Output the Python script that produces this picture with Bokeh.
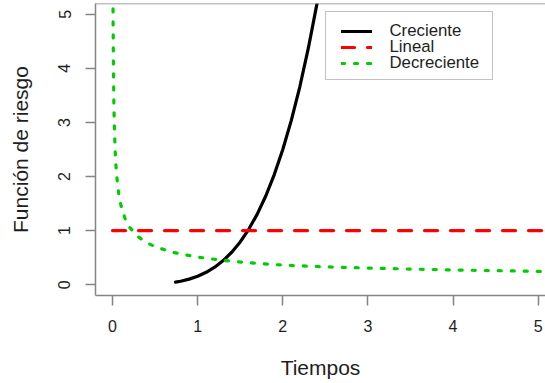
from bokeh.plotting import figure
from bokeh.models import Range1d, FixedTicker, Span, Legend, LegendItem
from bokeh.embed import file_html
from bokeh.resources import INLINE

# ---- data ----
t_creciente = [0.74, 0.80, 0.90, 1.00, 1.10, 1.20, 1.30, 1.40, 1.50, 1.60,
               1.70, 1.80, 1.90, 2.00, 2.10, 2.20, 2.30, 2.40, 2.50]
h_creciente = [0.047, 0.064, 0.103, 0.156, 0.229, 0.324, 0.446, 0.600, 0.791, 1.024,
               1.305, 1.640, 2.036, 2.500, 3.039, 3.660, 4.373, 5.184, 6.100]

t_lineal = [0.0, 5.2]
h_lineal = [1.0, 1.0]

t_decreciente = [0.006, 0.01, 0.015, 0.02, 0.03, 0.04, 0.06, 0.08, 0.10, 0.15,
                 0.20, 0.30, 0.40, 0.50, 0.70, 1.00, 1.30, 1.60, 2.00, 2.50,
                 3.00, 3.50, 4.00, 4.50, 5.00, 5.20]
h_decreciente = [5.10, 4.13, 3.44, 3.02, 2.51, 2.20, 1.83, 1.61, 1.46, 1.21,
                 1.06, 0.887, 0.777, 0.702, 0.600, 0.510, 0.450, 0.405, 0.362, 0.330,
                 0.308, 0.289, 0.273, 0.259, 0.247, 0.243]

x_ticks = [0, 1, 2, 3, 4, 5]
y_ticks = [0, 1, 2, 3, 4, 5]
series_labels = ["Creciente", "Lineal", "Decreciente"]
x_title = "Tiempos"
y_title = "Función de riesgo"

FONT = "Liberation Sans"
GRAY = "#858585"
TXT = "#1e1e1e"

p = figure(width=545, height=383, output_backend="svg", toolbar_location=None,
           x_range=Range1d(-0.2, 5.086), y_range=Range1d(-0.2, 5.2),
           min_border_left=95, min_border_right=0, min_border_top=3,
           min_border_bottom=88)
p.outline_line_color = None
p.grid.visible = False
p.background_fill_color = "white"
p.border_fill_color = "white"

r1 = p.line(t_creciente, h_creciente, line_color="black", line_width=3.2,
            line_cap="round", line_join="round")
r2 = p.line(t_lineal, h_lineal, line_color="#ff0000", line_width=3.2,
            line_dash="13 13", line_cap="round")
r3 = p.line(t_decreciente, h_decreciente, line_color="#00cd00", line_width=3.2,
            line_dash="3 10", line_cap="round", line_join="round")
# invisible renderer used only to draw the legend frame
r_box = p.line([], [], line_alpha=0)

p.add_layout(Span(location=5.2, dimension="width", line_color=GRAY, line_width=1.5))

for ax in (p.xaxis[0], p.yaxis[0]):
    ax.axis_line_color = GRAY
    ax.axis_line_width = 1.5
    ax.major_tick_line_color = GRAY
    ax.major_tick_line_width = 1.5
    ax.major_tick_out = 10
    ax.major_tick_in = 0
    ax.minor_tick_line_color = None
    ax.major_label_text_font = FONT
    ax.major_label_text_font_size = "16px"
    ax.major_label_text_color = TXT
    ax.axis_label_text_font = FONT
    ax.axis_label_text_font_size = "21px"
    ax.axis_label_text_font_style = "normal"
    ax.axis_label_text_color = TXT

p.xaxis[0].ticker = FixedTicker(ticks=x_ticks)
p.yaxis[0].ticker = FixedTicker(ticks=y_ticks)
p.yaxis[0].major_label_orientation = "vertical"
p.xaxis[0].major_label_standoff = 14
p.yaxis[0].major_label_standoff = 15
p.xaxis[0].axis_label = x_title
p.yaxis[0].axis_label = y_title
p.xaxis[0].axis_label_standoff = 21
p.yaxis[0].axis_label_standoff = 24

# legend frame (box only)
box = Legend(items=[LegendItem(label=" ", renderers=[r_box])], location=(230, 215))
box.padding = 0
box.margin = 0
box.glyph_width = 100
box.glyph_height = 67
box.label_width = 66
box.label_height = 67
box.label_standoff = 0
box.label_text_alpha = 0
box.border_line_color = GRAY
box.border_line_width = 1.5
box.background_fill_color = "white"
box.background_fill_alpha = 1.0
p.add_layout(box, "center")

# one legend per row so the rows can sit 16 px apart
row_offsets = [254.0, 238.0, 222.0]
for lab, rend, yoff in zip(series_labels, [r1, r2, r3], row_offsets):
    lg = Legend(items=[LegendItem(label=lab, renderers=[rend])], location=(245.5, yoff))
    lg.label_text_font = FONT
    lg.label_text_font_size = "16.8px"
    lg.label_text_color = TXT
    lg.glyph_width = 31
    lg.glyph_height = 16
    lg.label_height = 16
    lg.label_standoff = 18
    lg.padding = 0
    lg.spacing = 0
    lg.margin = 0
    lg.border_line_color = None
    lg.background_fill_alpha = 0
    p.add_layout(lg, "center")

open("out.html", "w").write(file_html(p, INLINE))
